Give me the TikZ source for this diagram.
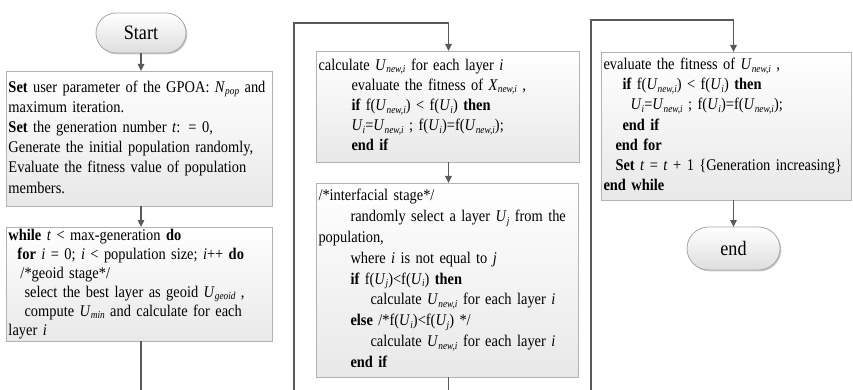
\documentclass[tikz,border=0pt]{standalone}
\usepackage{fontspec}
\setmainfont{Liberation Serif}[FakeStretch=0.885]
\usetikzlibrary{arrows.meta,shadows,calc}
\newcommand\sbs[2]{\textit{#1}\raisebox{-0.35ex}{\fontsize{10.5}{10.5}\selectfont\textit{#2}}}
\newcommand\ind[1]{\hspace*{#1pt}}
\newenvironment{lines}{\begin{tabular}{@{}l@{}}}{\end{tabular}}
\begin{document}
\begin{tikzpicture}[x=1pt,y=-1pt,
  every node/.style={font=\fontsize{16.3}{20.2}\selectfont},
  shad/.style={drop shadow={shadow xshift=1.3pt, shadow yshift=-1.3pt, fill=black!30, opacity=0.7}},
  box/.style={draw=black!30, line width=0.8pt, top color=white, bottom color=black!9, shad,
    anchor=north west, align=left, inner xsep=2.5pt, inner ysep=0pt, outer sep=0pt},
  term/.style={draw=black!35, line width=0.8pt, rounded corners=20pt, top color=white,
    bottom color=black!13, shad, minimum width=90pt, minimum height=40pt, inner sep=0pt, outer sep=0pt,
    font=\fontsize{20.5}{22}\selectfont},
  conn/.style={draw=black!65, line width=1.3pt},
  arr/.style={conn, -{Triangle[length=7pt,width=6.5pt]}}
]
\useasboundingbox (0,0) rectangle (853,390);
% column 1
\node[term] (start) at (141,33) {Start};
\node[box, text width=261pt, minimum height=135pt] (b1) at (6,71) {\begin{lines}
\textbf{Set} user parameter of the GPOA: \sbs{N}{pop} and\\
maximum iteration.\\
\textbf{Set} the generation number \textit{t}: = 0,\\
Generate the initial population randomly,\\
Evaluate the fitness value of population\\
members.\end{lines}};
\node[box, text width=261pt, minimum height=114pt, font=\fontsize{16.3}{19}\selectfont] (b2) at (6,227) {\begin{lines}
\textbf{while} \textit{t} < max-generation \textbf{do}\\
\ind{9}\textbf{for} \textit{i} = 0; \textit{i} < population size; \textit{i}++ \textbf{do}\\
\ind{12}/*geoid stage*/\\
\ind{16}select the best layer as geoid \sbs{U}{geoid} ,\\
\ind{16}compute \sbs{U}{min} and calculate for each\\
layer \textit{i}\end{lines}};
% column 2
\node[box, text width=258pt, minimum height=111pt] (b3) at (316,51) {\begin{lines}
calculate \sbs{U}{new,i} for each layer \textit{i}\\
\ind{33}evaluate the fitness of \sbs{X}{new,i} ,\\
\ind{33}\textbf{if} f(\sbs{U}{new,i}) < f(\sbs{U}{i}) \textbf{then}\\
\ind{33}\sbs{U}{i}=\sbs{U}{new,i} ; f(\sbs{U}{i})=f(\sbs{U}{new,i});\\
\ind{33}\textbf{end if}\end{lines}};
\node[box, text width=257pt, minimum height=194pt, font=\fontsize{16.3}{20.8}\selectfont] (b4) at (316,183) {\begin{lines}
/*interfacial stage*/\\
\ind{32}randomly select a layer \sbs{U}{j} from the\\
population,\\
\ind{32}where \textit{i} is not equal to \textit{j}\\
\ind{32}\textbf{if} f(\sbs{U}{j})<f(\sbs{U}{i}) \textbf{then}\\
\ind{52}calculate \sbs{U}{new,i} for each layer \textit{i}\\
\ind{32}\textbf{else} /*f(\sbs{U}{i})<f(\sbs{U}{j}) */\\
\ind{52}calculate \sbs{U}{new,i} for each layer \textit{i}\\
\ind{32}\textbf{end if}\end{lines}};
% column 3
\node[box, text width=245pt, minimum height=148pt] (b5) at (601,52) {\begin{lines}
evaluate the fitness of \sbs{U}{new,i} ,\\
\ind{19}\textbf{if} f(\sbs{U}{new,i}) < f(\sbs{U}{i}) \textbf{then}\\
\ind{27}\sbs{U}{i}=\sbs{U}{new,i} ; f(\sbs{U}{i})=f(\sbs{U}{new,i});\\
\ind{19}\textbf{end if}\\
\ind{12}\textbf{end for}\\
\ind{12}\textbf{Set} \textit{t} = \textit{t} + 1 \{Generation increasing\}\\
\textbf{end while}\end{lines}};
\node[term, minimum width=93pt, minimum height=43pt, rounded corners=21.5pt] (end) at (733.5,248.5) {end};
% connectors
\coordinate (e1) at (141,390);
\coordinate (c2b) at (294,390);
\coordinate (c2t) at (294,23);
\coordinate (c2x) at (448.5,23);
\coordinate (e2) at (448.5,390);
\coordinate (c3b) at (591,390);
\coordinate (c3t) at (591,20);
\draw[arr] (start.south) -- (start.south |- b1.north);
\draw[arr] (b1.south -| start.south) -- (start.south |- b2.north);
\draw[conn] (b2.south -| e1) -- (e1);
\draw[arr] (c2b) -- (c2t) -- (c2x) -- (c2x |- b3.north);
\draw[arr] (c2x |- b3.south) -- (c2x |- b4.north);
\draw[conn] (e2 |- b4.south) -- (e2);
\draw[arr] (c3b) -- (c3t) -| (end.north |- b5.north);
\draw[arr] (end.north |- b5.south) -- (end.north);
\end{tikzpicture}
\end{document}
